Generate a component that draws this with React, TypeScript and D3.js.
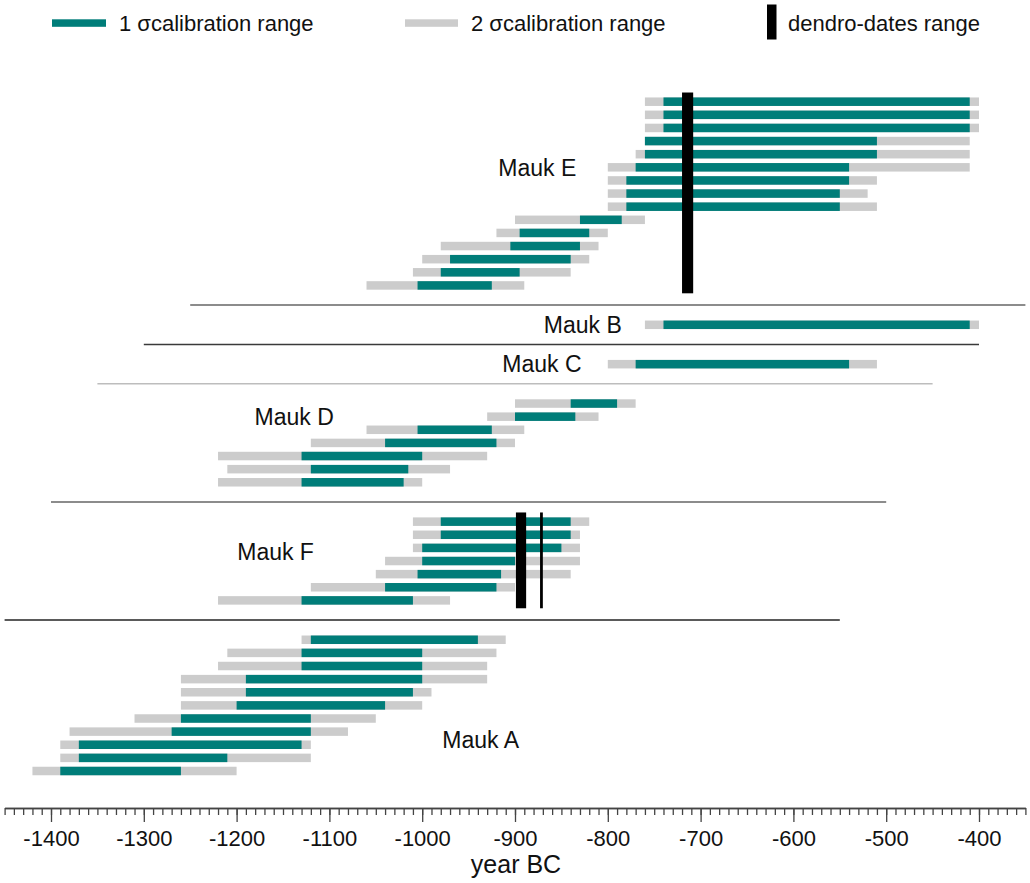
import React, { useEffect, useRef } from 'react'
import * as d3 from 'd3'

// each row: [2σ start, 1σ start, 1σ end, 2σ end] in years BC (negative)
const maukE = [
  [-760, -740, -410, -400],
  [-760, -740, -410, -400],
  [-760, -740, -410, -400],
  [-760, -760, -510, -410],
  [-770, -760, -510, -410],
  [-800, -770, -540, -410],
  [-800, -780, -540, -510],
  [-800, -780, -550, -520],
  [-800, -780, -550, -510],
  [-900, -830, -785, -760],
  [-920, -895, -820, -800],
  [-980, -905, -830, -810],
  [-1000, -970, -840, -820],
  [-1010, -980, -895, -840],
  [-1060, -1005, -925, -890],
]
const maukB = [[-760, -740, -410, -400]]
const maukC = [[-800, -770, -540, -510]]
const maukD = [
  [-900, -840, -790, -770],
  [-930, -900, -835, -810],
  [-1060, -1005, -925, -890],
  [-1120, -1040, -920, -900],
  [-1220, -1130, -1000, -930],
  [-1210, -1120, -1015, -970],
  [-1220, -1130, -1020, -1000],
]
const maukF = [
  [-1010, -980, -840, -820],
  [-1010, -980, -840, -830],
  [-1010, -1000, -850, -830],
  [-1040, -1000, -900, -830],
  [-1050, -1005, -915, -840],
  [-1120, -1040, -920, -900],
  [-1220, -1130, -1010, -970],
]
const maukA = [
  [-1130, -1120, -940, -910],
  [-1210, -1130, -1000, -920],
  [-1220, -1130, -1000, -930],
  [-1260, -1190, -1000, -930],
  [-1260, -1190, -1010, -990],
  [-1260, -1200, -1040, -1000],
  [-1310, -1260, -1120, -1050],
  [-1380, -1270, -1120, -1080],
  [-1390, -1370, -1130, -1120],
  [-1390, -1370, -1210, -1120],
  [-1420, -1390, -1260, -1200],
]

// group name, rows, first row index, label year, label row
const groups: [string, number[][], number, number, number][] = [
  ['Mauk E', maukE, 0, -876, 5],
  ['Mauk B', maukB, 17, -827, 17],
  ['Mauk C', maukC, 20, -871, 20],
  ['Mauk D', maukD, 23, -1138, 24],
  ['Mauk F', maukF, 32, -1158, 34.3],
  ['Mauk A', maukA, 41, -937, 48.6],
]

// dendro-date ranges: [from year, to year, top row, bottom row]
const dendro = [
  [-720, -708, -0.7, 14.6],
  [-899, -888, 31.3, 38.6],
  [-873, -870, 31.3, 38.6],
]

// group separators: [row, from year, to year]
const separators = [
  [15.5, -1250, -350],
  [18.5, -1300, -400],
  [21.5, -1350, -450],
  [30.5, -1400, -500],
  [39.5, -1450, -550],
]
const sepStyle = [
  { c: '#8c8c8c', w: 2 },
  { c: '#3a3a3a', w: 1.5 },
  { c: '#bdbdbd', w: 1.5 },
  { c: '#8c8c8c', w: 2 },
  { c: '#5a5a5a', w: 2 },
]

const majorTicks = d3.range(-1400, -399, 100)
const minorTicks = d3.range(-1450, -349, 10)

const TEAL = '#007d79'
const GREY = '#cccccc'
const FONT = '"Liberation Sans", Arial, sans-serif'

const App = () => {
  const ref = useRef<SVGSVGElement>(null)

  useEffect(() => {
    draw()
  }, [])

  const draw = () => {
    const svg = d3.select(ref.current)
    svg.selectAll('*').remove()

    const x = d3.scaleLinear().domain([-1450, -350]).range([4.6, 1025.4])
    const y = d3.scaleLinear().domain([0, 51]).range([101.7, 771])
    const barH = 8.5

    // separators
    separators.forEach((s, i) => {
      svg
        .append('line')
        .attr('x1', x(s[1]))
        .attr('x2', x(s[2]))
        .attr('y1', y(s[0]))
        .attr('y2', y(s[0]))
        .attr('stroke', sepStyle[i].c)
        .attr('stroke-width', sepStyle[i].w)
    })

    groups.forEach(([name, rows, start, ly, lr]) => {
      const g = svg.append('g')
      g.selectAll('rect.two')
        .data(rows)
        .enter()
        .append('rect')
        .attr('x', (d) => x(d[0]))
        .attr('width', (d) => x(d[3]) - x(d[0]))
        .attr('y', (d, i) => y(start + i) - barH / 2)
        .attr('height', barH)
        .attr('fill', GREY)
      g.selectAll('rect.one')
        .data(rows)
        .enter()
        .append('rect')
        .attr('x', (d) => x(d[1]))
        .attr('width', (d) => x(d[2]) - x(d[1]))
        .attr('y', (d, i) => y(start + i) - barH / 2)
        .attr('height', barH)
        .attr('fill', TEAL)
      g.append('text')
        .attr('x', x(ly))
        .attr('y', y(lr))
        .attr('dy', '0.36em')
        .attr('text-anchor', 'middle')
        .attr('font-family', FONT)
        .attr('font-size', 23)
        .attr('fill', '#111')
        .text(name)
    })

    // dendro bars
    svg
      .selectAll('rect.dendro')
      .data(dendro)
      .enter()
      .append('rect')
      .attr('x', (d) => x(d[0]))
      .attr('width', (d) => x(d[1]) - x(d[0]))
      .attr('y', (d) => y(d[2]))
      .attr('height', (d) => y(d[3]) - y(d[2]))
      .attr('fill', '#000')

    // axis
    const axisY = 808
    const minor = svg
      .append('g')
      .attr('transform', `translate(0,${axisY})`)
      .call(d3.axisBottom(x).tickValues(minorTicks).tickSize(7).tickSizeOuter(0).tickFormat(() => ''))
    const major = svg
      .append('g')
      .attr('transform', `translate(0,${axisY})`)
      .call(
        d3
          .axisBottom(x)
          .tickValues(majorTicks)
          .tickSize(14)
          .tickSizeOuter(0)
          .tickPadding(8)
          .tickFormat((d) => String(d))
      )
    ;[minor, major].forEach((a) => {
      a.selectAll('path, line').attr('stroke', '#444').attr('stroke-width', 1.3)
    })
    major.selectAll('text').attr('font-family', FONT).attr('font-size', 22).attr('fill', '#111')

    svg
      .append('text')
      .attr('x', 516)
      .attr('y', 873)
      .attr('text-anchor', 'middle')
      .attr('font-family', FONT)
      .attr('font-size', 25)
      .attr('fill', '#111')
      .text('year BC')

    // legend
    const leg = svg.append('g').attr('font-family', FONT).attr('font-size', 22).attr('fill', '#111')
    leg.append('rect').attr('x', 52).attr('y', 19.3).attr('width', 54).attr('height', 7.5).attr('fill', TEAL)
    leg.append('text').attr('x', 119).attr('y', 31).text('1 σcalibration range')
    leg.append('rect').attr('x', 405).attr('y', 19.3).attr('width', 53).attr('height', 7.5).attr('fill', GREY)
    leg.append('text').attr('x', 471).attr('y', 31).text('2 σcalibration range')
    leg.append('rect').attr('x', 767).attr('y', 4.5).attr('width', 9.5).attr('height', 35).attr('fill', '#000')
    leg.append('text').attr('x', 788).attr('y', 31).text('dendro-dates range')
  }

  return (
    <svg
      ref={ref}
      width={1030}
      height={883}
      style={{ position: 'absolute', left: 0, top: 0, background: '#fff' }}
    />
  )
}

export default App
